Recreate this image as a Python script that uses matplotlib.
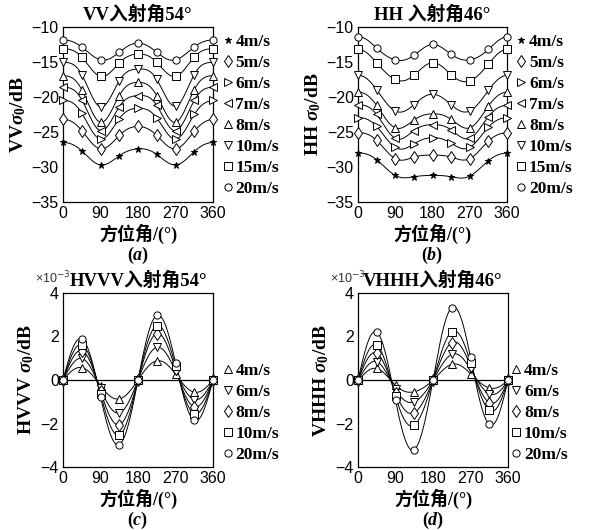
import numpy as np
import matplotlib
matplotlib.use('Agg')
import matplotlib.pyplot as plt

plt.rcParams['font.family'] = ['Liberation Sans', 'Noto Sans CJK SC']
plt.rcParams['mathtext.fontset'] = 'custom'
plt.rcParams['mathtext.rm'] = 'Liberation Serif:bold'
plt.rcParams['mathtext.it'] = 'Liberation Serif:italic:bold'
plt.rcParams['mathtext.bf'] = 'Liberation Serif:bold'

SERIF = ['Liberation Serif', 'Noto Sans CJK SC']

# azimuth angles (deg)
angles = [0, 45, 90, 135, 180, 225, 270, 315, 360]

# (a) VV, incidence 54 deg
speeds_ab = ['4m/s', '5m/s', '6m/s', '7m/s', '8m/s', '10m/s', '15m/s', '20m/s']
markers_ab = ['*', 'd', '>', '<', '^', 'v', 's', 'o']
vv54 = [
    [-26.5, -27.7, -29.7, -28.4, -27.4, -28.2, -29.7, -27.8, -26.5],
    [-23.2, -24.8, -27.4, -25.5, -24.2, -25.5, -27.4, -24.9, -23.2],
    [-20.5, -22.3, -26.0, -23.1, -21.6, -23.0, -26.0, -22.5, -20.5],
    [-18.6, -20.4, -24.8, -21.4, -19.8, -21.2, -24.8, -20.5, -18.6],
    [-16.95, -18.95, -23.6, -19.8, -17.9, -19.8, -23.6, -18.95, -16.95],
    [-15.05, -16.8, -21.4, -17.7, -16.0, -17.5, -21.3, -16.8, -15.05],
    [-13.1, -14.3, -17.05, -15.15, -13.85, -15.05, -17.05, -14.3, -13.1],
    [-11.85, -12.85, -14.7, -13.6, -12.3, -13.6, -14.7, -12.85, -11.85],
]

# (b) HH, incidence 46 deg
hh46 = [
    [-28.0, -28.95, -31.2, -31.4, -31.2, -31.4, -31.3, -29.1, -28.0],
    [-25.1, -26.2, -28.8, -28.6, -28.3, -28.6, -28.8, -26.3, -25.1],
    [-22.95, -24.2, -27.2, -26.7, -25.8, -26.6, -27.2, -24.3, -22.95],
    [-21.15, -22.5, -25.9, -24.8, -23.95, -24.7, -25.9, -22.8, -21.15],
    [-19.3, -21.2, -24.4, -23.3, -22.4, -23.2, -24.4, -21.3, -19.3],
    [-16.9, -18.95, -22.0, -21.1, -19.6, -21.1, -22.0, -19.05, -16.9],
    [-13.2, -15.1, -17.5, -16.9, -15.1, -16.8, -17.7, -15.3, -13.2],
    [-11.4, -13.0, -14.7, -14.05, -12.5, -13.9, -14.7, -13.2, -11.4],
]

# (c) HVVV, incidence 54 deg, (d) VHHH, incidence 46 deg  (x 1e-3)
speeds_cd = ['4m/s', '6m/s', '8m/s', '10m/s', '20m/s']
markers_cd = ['^', 'v', 'd', 's', 'o']
hvvv54 = [
    [0, 0.57, -0.26, -0.87, 0, 0.88, 0.27, -0.56, 0],
    [0, 0.99, -0.39, -1.51, 0, 1.50, 0.41, -0.90, 0],
    [0, 1.35, -0.51, -2.05, 0, 2.13, 0.51, -1.23, 0],
    [0, 1.62, -0.63, -2.53, 0, 2.50, 0.64, -1.55, 0],
    [0, 1.89, -0.77, -2.97, 0, 2.97, 0.80, -1.86, 0],
]
vhhh46 = [
    [0, 0.53, -0.24, -0.54, 0, 0.72, 0.29, -0.36, 0],
    [0, 0.84, -0.42, -1.00, 0, 1.18, 0.49, -0.63, 0],
    [0, 1.23, -0.58, -1.50, 0, 1.72, 0.64, -1.04, 0],
    [0, 1.60, -0.74, -2.07, 0, 2.22, 0.80, -1.40, 0],
    [0, 2.20, -0.93, -3.20, 0, 3.33, 1.05, -2.04, 0],
]


def smooth_curve(vals):
    # periodic trig curve through the measured points (display only)
    v = np.asarray(vals[:-1], float)
    n = len(v)
    c = np.fft.rfft(v) / n
    t = np.linspace(0, 2 * np.pi, 361)
    y = np.full_like(t, c[0].real)
    for k in range(1, n // 2):
        y += 2 * (c[k] * np.exp(1j * k * t)).real
    y += (c[n // 2] * np.exp(1j * (n // 2) * t)).real
    return np.degrees(t), y


def draw_panel(ax, data, labels, marks, ylim, yticks, title, ylabel, tag,
               leg_x, leg_y, sci=False):
    for vals, lab, m in zip(data, labels, marks):
        xs, ys = smooth_curve(vals)
        ax.plot(xs, ys, color='black', lw=0.7, clip_on=False)
        fc = 'black' if m == '*' else 'white'
        ms = {'*': 5.0, 'd': 6.3}.get(m, 5.2)
        ax.plot(angles, vals, ls='none', marker=m, ms=ms, mfc=fc, mec='black',
                mew=0.7, label=lab, clip_on=False, zorder=3)
    if sci:
        ax.axhline(0, color='black', lw=0.9)
    ax.set_xlim(0, 360)
    ax.set_ylim(*ylim)
    ax.set_xticks([0, 90, 180, 270, 360])
    ax.set_yticks(yticks)
    ax.tick_params(length=0, labelsize=11.5, pad=3)
    for s in ax.spines.values():
        s.set_linewidth(0.9)
    ax.set_title(title, family=SERIF, fontweight='bold', fontsize=13.5, pad=5)
    ax.set_ylabel(ylabel, family=SERIF, fontweight='bold', fontsize=14, labelpad=3)
    ax.set_xlabel('方位角/(°)', family=SERIF, fontweight='bold', fontsize=13, labelpad=2)
    ax.text(0.5, -0.305, '(' + r'$\it{' + tag + '}$' + ')', transform=ax.transAxes,
            ha='center', va='center', family=SERIF, fontweight='bold', fontsize=13)
    ax.legend(loc='upper left', bbox_to_anchor=(leg_x, leg_y), frameon=False,
              handlelength=0.6, handletextpad=0.15, borderpad=0, borderaxespad=0,
              labelspacing=0.28, prop={'family': SERIF, 'weight': 'bold', 'size': 12.5})
    if sci:
        ax.text(-0.187, 1.086, r'×10$^{-3}$', transform=ax.transAxes, ha='left',
                va='center', fontsize=9, color='#333333',
                math_fontfamily='dejavusans')


fig = plt.figure(figsize=(5.94, 5.30), dpi=100)
ax_a = fig.add_axes([63 / 594, 328 / 530, 150 / 594, 175 / 530])
ax_b = fig.add_axes([358 / 594, 328 / 530, 149 / 594, 175 / 530])
ax_c = fig.add_axes([63 / 594, 63 / 530, 150 / 594, 174 / 530])
ax_d = fig.add_axes([358 / 594, 63 / 530, 150 / 594, 174 / 530])

draw_panel(ax_a, vv54, speeds_ab, markers_ab, (-35, -10), [-35, -30, -25, -20, -15, -10],
           'VV入射角54°', r'VV$\sigma_0$/dB', 'a', 1.063, 0.962)
draw_panel(ax_b, hh46, speeds_ab, markers_ab, (-35, -10), [-35, -30, -25, -20, -15, -10],
           'HH 入射角46°', r'HH $\sigma_0$/dB', 'b', 1.06, 0.962)
draw_panel(ax_c, hvvv54, speeds_cd, markers_cd, (-4, 4), [-4, -2, 0, 2, 4],
           'HVVV入射角54°', r'HVVV $\sigma_0$/dB', 'c', 1.063, 0.6, sci=True)
draw_panel(ax_d, vhhh46, speeds_cd, markers_cd, (-4, 4), [-4, -2, 0, 2, 4],
           'VHHH入射角46°', r'VHHH $\sigma_0$/dB', 'd', 1.02, 0.6, sci=True)

fig.savefig('out.png', dpi=100)
